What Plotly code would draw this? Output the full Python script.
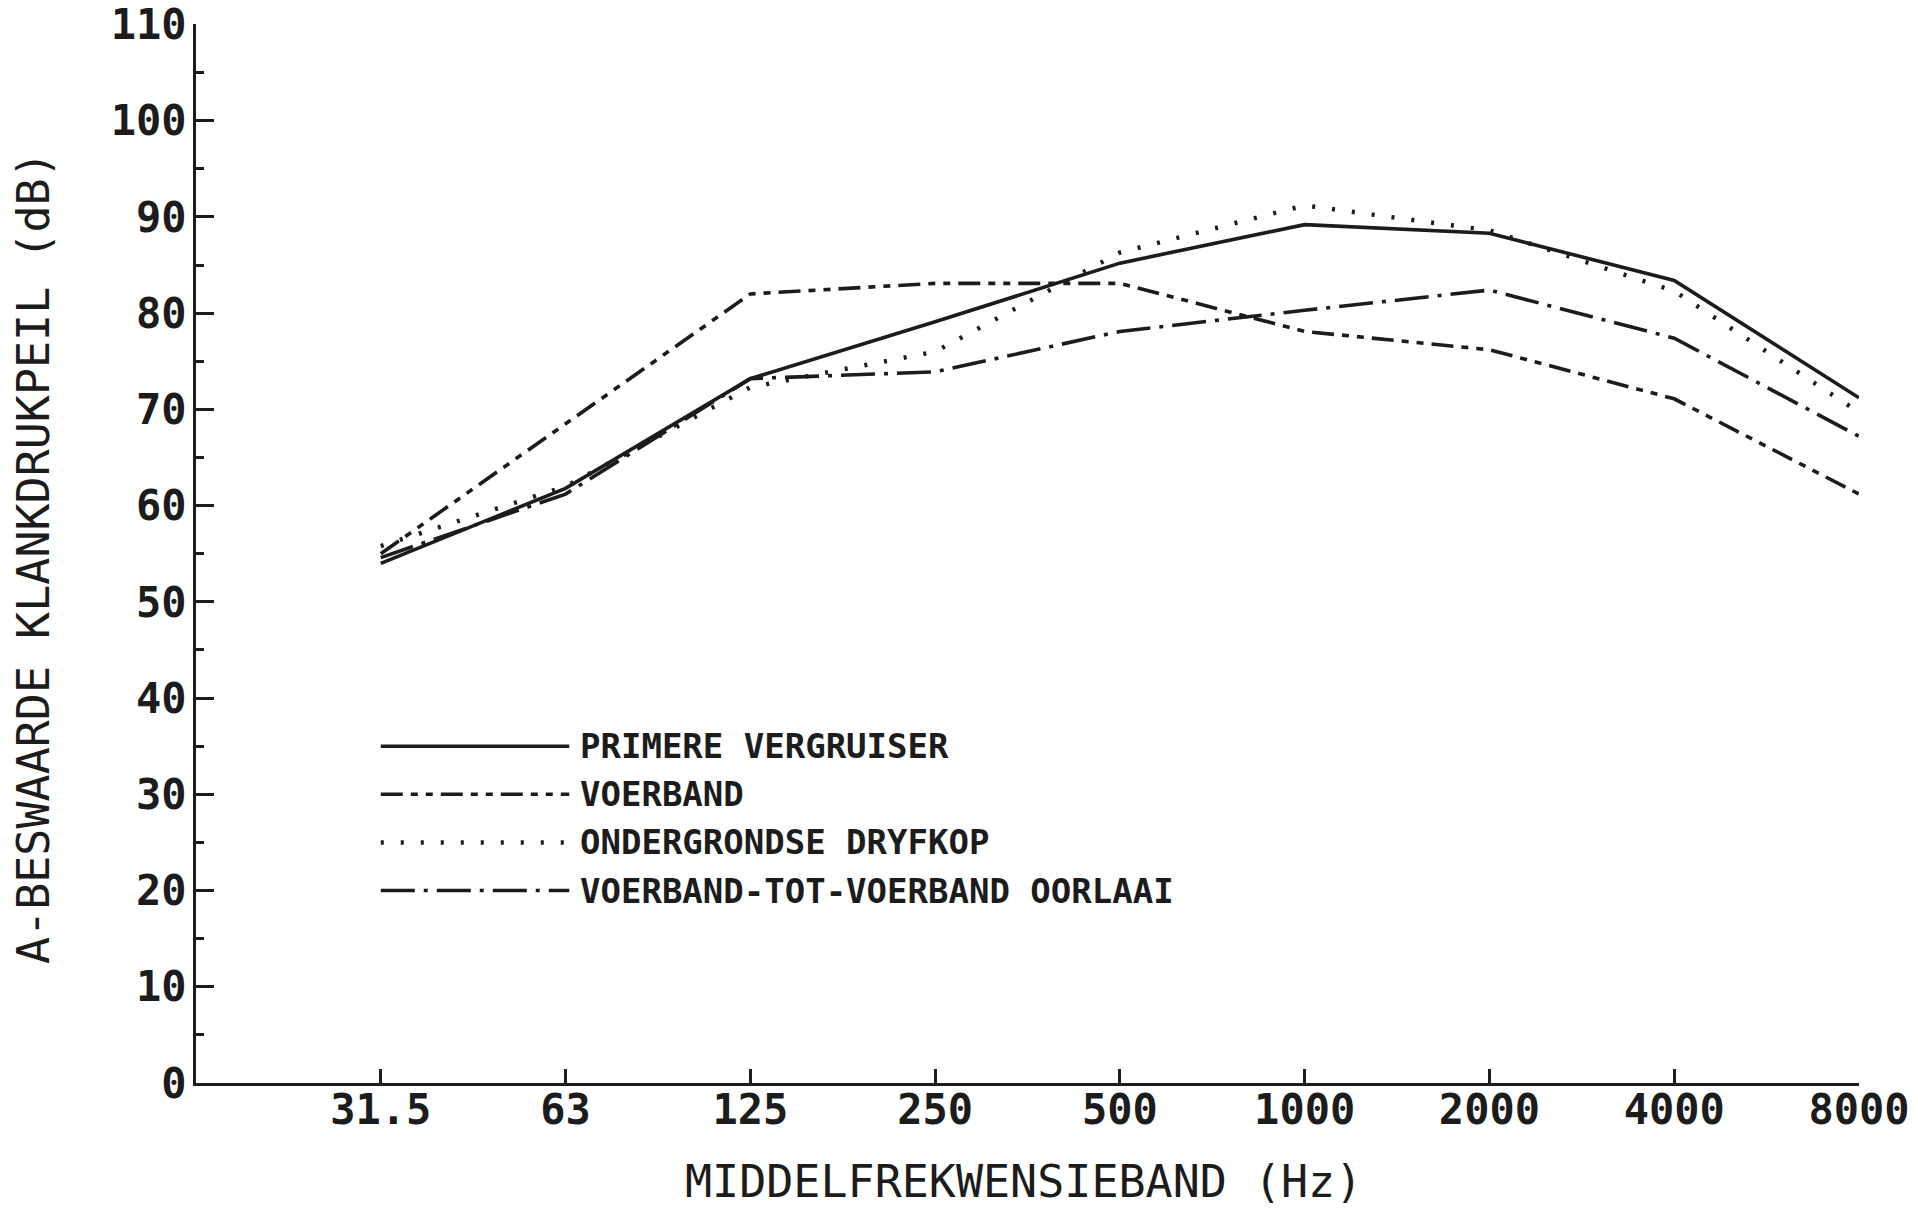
import plotly.graph_objects as go

# ---- data ----
freq_labels = ["31.5", "63", "125", "250", "500", "1000", "2000", "4000", "8000"]
primere_vergruiser = [54.0, 61.8, 73.2, 79.1, 85.2, 89.2, 88.3, 83.4, 71.2]
voerband = [55.0, 68.5, 82.0, 83.1, 83.1, 78.1, 76.2, 71.1, 61.2]
ondergrondse_dryfkop = [55.8, 62.0, 72.3, 76.0, 86.3, 91.2, 88.6, 82.3, 69.7]
voerband_oorlaai = [54.6, 61.2, 73.2, 73.9, 78.1, 80.3, 82.4, 77.4, 67.2]

series_names = ["PRIMERE VERGRUISER", "VOERBAND", "ONDERGRONDSE DRYFKOP",
                "VOERBAND-TOT-VOERBAND OORLAAI"]
y_ticks = list(range(0, 111, 10))

# ---- styles ----
INK = "#1c1c1c"
LW = 3.6
dashes = ["solid", "22px,8px,7px,8px,7px,8px", "3px,17px", "34px,9px,4px,9px"]
series = [primere_vergruiser, voerband, ondergrondse_dryfkop, voerband_oorlaai]

x_idx = list(range(len(freq_labels)))

fig = go.Figure()
for name, vals, dash in zip(series_names, series, dashes):
    fig.add_trace(go.Scatter(
        x=x_idx, y=vals, mode="lines", name=name,
        line=dict(color=INK, width=LW if dash != "3px,17px" else 4.5, dash=dash),
        showlegend=False,
    ))

# ---- hand-drawn style legend inside the plot (data coords as in the original) ----
legend_rows_y = [35, 30, 25, 20]
legend_x0, legend_x1, legend_text_x = 0.0, 1.02, 1.07
for name, dash, yy in zip(series_names, dashes, legend_rows_y):
    fig.add_shape(type="line", xref="x", yref="y", x0=legend_x0, x1=legend_x1, y0=yy, y1=yy,
                  line=dict(color=INK, width=LW if dash != "3px,17px" else 4.5, dash=dash))
    fig.add_annotation(x=legend_text_x, y=yy, xref="x", yref="y", text=name, showarrow=False,
                       xanchor="left", yanchor="middle",
                       font=dict(family="DejaVu Sans Mono", size=34, color=INK, weight="bold"))

tick_font = dict(family="DejaVu Sans Mono", size=42, color=INK, weight="bold")

fig.update_xaxes(
    range=[-1, 8], tickmode="array", tickvals=x_idx, ticktext=freq_labels,
    showgrid=False, zeroline=False, showline=True, linecolor=INK, linewidth=3,
    ticks="inside", ticklen=14, tickwidth=2.5, tickcolor=INK, tickfont=tick_font,
    ticklabelstandoff=-12, automargin=False,
)
fig.update_yaxes(
    range=[0, 110.05], tickmode="array", tickvals=y_ticks,
    showgrid=False, zeroline=False, showline=True, linecolor=INK, linewidth=3,
    ticks="inside", ticklen=18, tickwidth=3, tickcolor=INK, tickfont=tick_font,
    minor=dict(dtick=5, ticks="inside", ticklen=8, tickwidth=2.5, tickcolor=INK, showgrid=False),
    ticklabelstandoff=-2, automargin=False,
)

fig.add_annotation(xref="paper", yref="paper", x=(1023 - 196) / 1663, y=-(1210 - 1083) / 1059,
                   text="MIDDELFREKWENSIEBAND (Hz)", showarrow=False,
                   xanchor="center", yanchor="bottom",
                   font=dict(family="DejaVu Sans Mono", size=45, color=INK))
fig.add_annotation(xref="paper", yref="paper", x=(33 - 196) / 1663, y=(1083 - 558) / 1059,
                   text="A-BESWAARDE KLANKDRUKPEIL (dB)", showarrow=False, textangle=-90,
                   xanchor="center", yanchor="middle",
                   font=dict(family="DejaVu Sans Mono", size=45, color=INK))

fig.update_layout(
    width=1918, height=1209,
    margin=dict(l=196, r=59, t=24, b=126),
    paper_bgcolor="white", plot_bgcolor="white",
    showlegend=False,
)

fig.write_html("out.html", config={"displayModeBar": False},
               post_script="document.body.style.margin='0';")
